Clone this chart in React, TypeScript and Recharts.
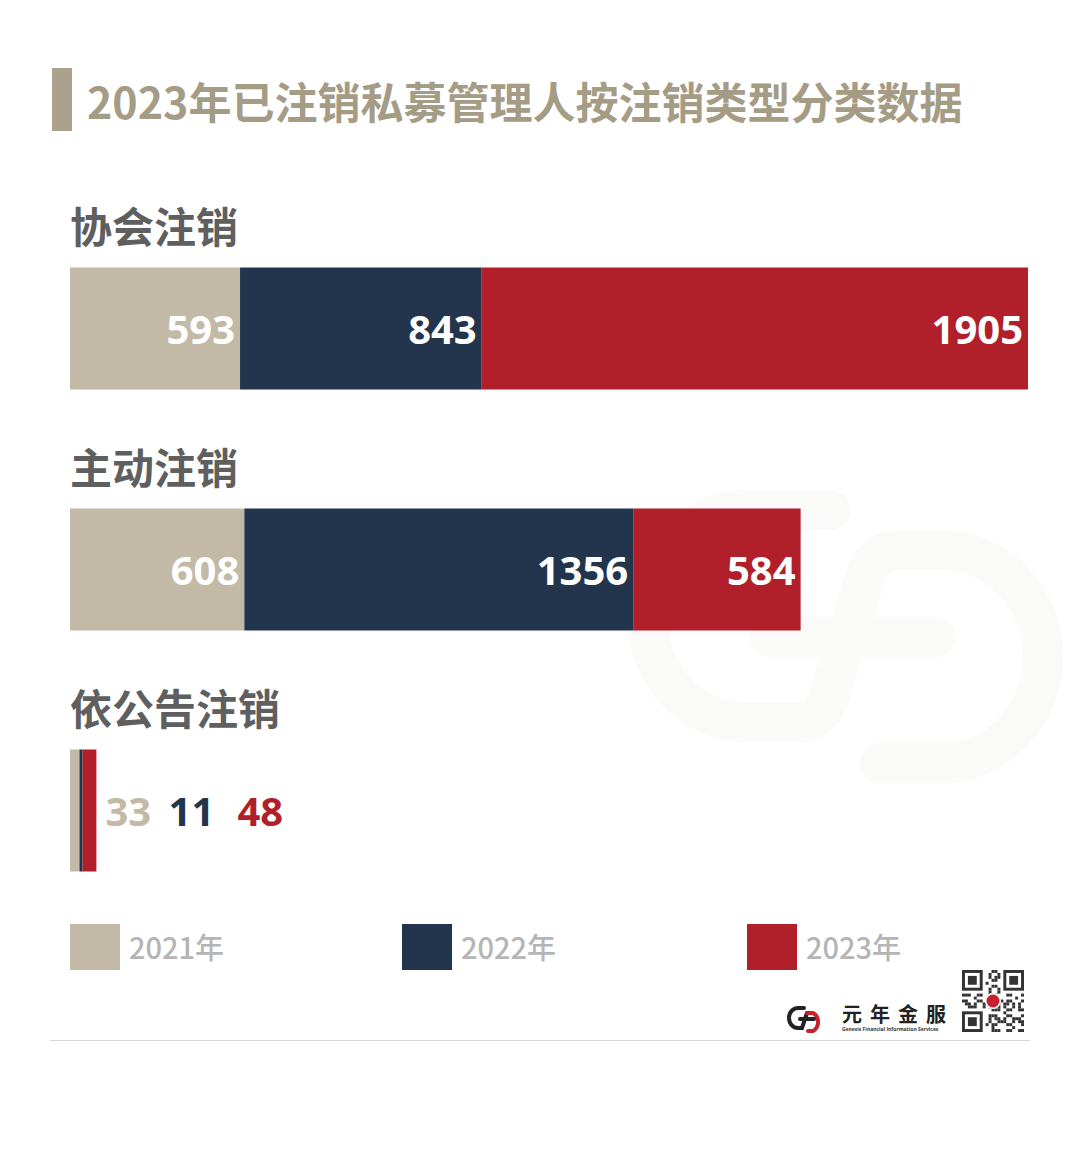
import React from 'react';
import { BarChart, Bar, XAxis, YAxis, LabelList } from 'recharts';

const categories = ['协会注销', '主动注销', '依公告注销'];
const years = ['2021年', '2022年', '2023年'];
const v2021 = [593, 608, 33];
const v2022 = [843, 1356, 11];
const v2023 = [1905, 584, 48];
const seriesKeys = ['y2021', 'y2022', 'y2023'];
const colors = ['#c2baa7', '#22354d', '#b01f2a'];

const data = categories.map((name, i) => ({
  name,
  y2021: v2021[i],
  y2022: v2022[i],
  y2023: v2023[i],
}));

const CJK = '"Noto Sans CJK SC", "Noto Sans", sans-serif';
const NUM = '"Open Sans", "Noto Sans", sans-serif';

const outsideOffsets = [26, 86, 141];

const makeLabel = (si: number) => (props: any) => {
  const { x, y, width, height, value } = props;
  const cy = Number(y) + Number(height) / 2;
  if (Number(width) < 40) {
    return (
      <text
        x={Number(x) + Number(width) + outsideOffsets[si]}
        y={cy}
        dominantBaseline="central"
        textAnchor="start"
        fill={colors[si]}
        fontFamily={NUM}
        fontWeight={700}
        fontSize={40}
      >
        {value}
      </text>
    );
  }
  return (
    <text
      x={Number(x) + Number(width) - 5}
      y={cy}
      dominantBaseline="central"
      textAnchor="end"
      fill="#ffffff"
      fontFamily={NUM}
      fontWeight={700}
      fontSize={40}
    >
      {value}
    </text>
  );
};

const categoryLabel = (props: any) => {
  const { x, y, height, value } = props;
  return (
    <text
      x={Number(x)}
      y={Number(y) + Number(height) / 2 - 104}
      dominantBaseline="central"
      textAnchor="start"
      fill="#5f5f5f"
      fontFamily={CJK}
      fontWeight={700}
      fontSize={42}
    >
      {value}
    </text>
  );
};

const QR = () => {
  const n = 21;
  const m = 62 / n;
  const cells: React.ReactNode[] = [];
  const inFinder = (r: number, c: number) =>
    (r < 8 && c < 8) || (r < 8 && c >= n - 8) || (r >= n - 8 && c < 8);
  for (let r = 0; r < n; r++) {
    for (let c = 0; c < n; c++) {
      if (inFinder(r, c)) continue;
      if ((r * 7 + c * 11 + r * c) % 5 < 2 || (r + c * 3) % 7 === 0) {
        cells.push(<rect key={`${r}-${c}`} x={c * m} y={r * m} width={m} height={m} fill="#333" />);
      }
    }
  }
  const finder = (fx: number, fy: number, k: string) => (
    <g key={k}>
      <rect x={fx} y={fy} width={7 * m} height={7 * m} fill="#333" />
      <rect x={fx + m} y={fy + m} width={5 * m} height={5 * m} fill="#fff" />
      <rect x={fx + 2 * m} y={fy + 2 * m} width={3 * m} height={3 * m} fill="#333" />
    </g>
  );
  return (
    <svg width={62} height={62} style={{ position: 'absolute', left: 962, top: 970 }}>
      {cells}
      {finder(0, 0, 'a')}
      {finder((n - 7) * m, 0, 'b')}
      {finder(0, (n - 7) * m, 'c')}
      <circle cx={31} cy={31} r={8} fill="#fff" />
      <circle cx={31} cy={31} r={6.5} fill="#c8202c" />
    </svg>
  );
};

const Watermark = () => (
  <svg width={1080} height={1164} style={{ position: 'absolute', left: 0, top: 0 }}>
    <g fill="none" stroke="#fafaf8" strokeWidth={40} strokeLinecap="round" strokeLinejoin="round">
      <path d="M 830 510 H 745 A 98 106 0 0 0 745 722 H 800 Q 820 722 828 700 L 866 575 Q 874 550 900 550 H 950 A 103 107 0 0 1 950 763 H 880" />
      <path d="M 770 637 H 935" />
    </g>
  </svg>
);

const Legend = () => (
  <>
    {years.map((yr, i) => {
      const left = [70, 402, 747][i];
      return (
        <div key={yr}>
          <div
            style={{
              position: 'absolute',
              left,
              top: 924,
              width: 50,
              height: 46,
              background: colors[i],
            }}
          />
          <div
            style={{
              position: 'absolute',
              left: left + 59,
              top: 926,
              height: 40,
              lineHeight: '40px',
              fontFamily: CJK,
              fontSize: 29,
              fontWeight: 500,
              color: '#b5b5b5',
            }}
          >
            {yr}
          </div>
        </div>
      );
    })}
  </>
);

const Logo = () => (
  <>
    <svg width={44} height={30} style={{ position: 'absolute', left: 786, top: 1003 }}>
      <g fill="none" strokeWidth={4} strokeLinecap="round">
        <path d="M 18 5 H 12 A 9 10 0 0 0 12 25 H 16 L 21 10" stroke="#222" />
        <path d="M 21 10 H 27 A 9 10 0 0 1 27 28 H 22" stroke="#c8202c" />
        <path d="M 14 16 H 28" stroke="#222" />
      </g>
    </svg>
    <div
      style={{
        position: 'absolute',
        left: 842,
        top: 1002,
        fontFamily: CJK,
        fontWeight: 700,
        fontSize: 20,
        letterSpacing: 8,
        color: '#222',
        lineHeight: '24px',
      }}
    >
      元年金服
    </div>
    <div
      style={{
        position: 'absolute',
        left: 842,
        top: 1026,
        fontFamily: '"Open Sans", sans-serif',
        fontWeight: 700,
        fontSize: 5,
        color: '#333',
        whiteSpace: 'nowrap',
        lineHeight: '6px',
      }}
    >
      Genesis Financial Information Services
    </div>
  </>
);

export default function App() {
  return (
    <div
      style={{
        position: 'absolute',
        left: 0,
        top: 0,
        width: 1080,
        height: 1164,
        background: '#ffffff',
        overflow: 'hidden',
      }}
    >
      <Watermark />
      <div style={{ position: 'absolute', left: 52, top: 68, width: 20, height: 63, background: '#aaa28d' }} />
      <div
        style={{
          position: 'absolute',
          left: 87,
          top: 70,
          height: 60,
          lineHeight: '60px',
          fontFamily: CJK,
          fontWeight: 700,
          fontSize: 43,
          color: '#a59c86',
          whiteSpace: 'nowrap',
        }}
      >
        2023年已注销私募管理人按注销类型分类数据
      </div>
      <div style={{ position: 'absolute', left: 0, top: 0 }}>
        <BarChart
          width={1080}
          height={1164}
          data={data}
          layout="vertical"
          margin={{ top: 207.5, right: 52, bottom: 233.5, left: 70 }}
          barCategoryGap={0}
        >
          <XAxis type="number" hide domain={[0, 'dataMax']} />
          <YAxis type="category" dataKey="name" hide />
          {seriesKeys.map((k, si) => (
            <Bar
              key={k}
              dataKey={k}
              name={years[si]}
              stackId="a"
              fill={colors[si]}
              barSize={122}
              isAnimationActive={false}
            >
              <LabelList dataKey={k} content={makeLabel(si)} />
              {si === 0 ? <LabelList dataKey="name" content={categoryLabel} /> : null}
            </Bar>
          ))}
        </BarChart>
      </div>
      <Legend />
      <Logo />
      <QR />
      <div style={{ position: 'absolute', left: 50, top: 1040, width: 980, height: 1, background: '#d9d9d9' }} />
    </div>
  );
}
